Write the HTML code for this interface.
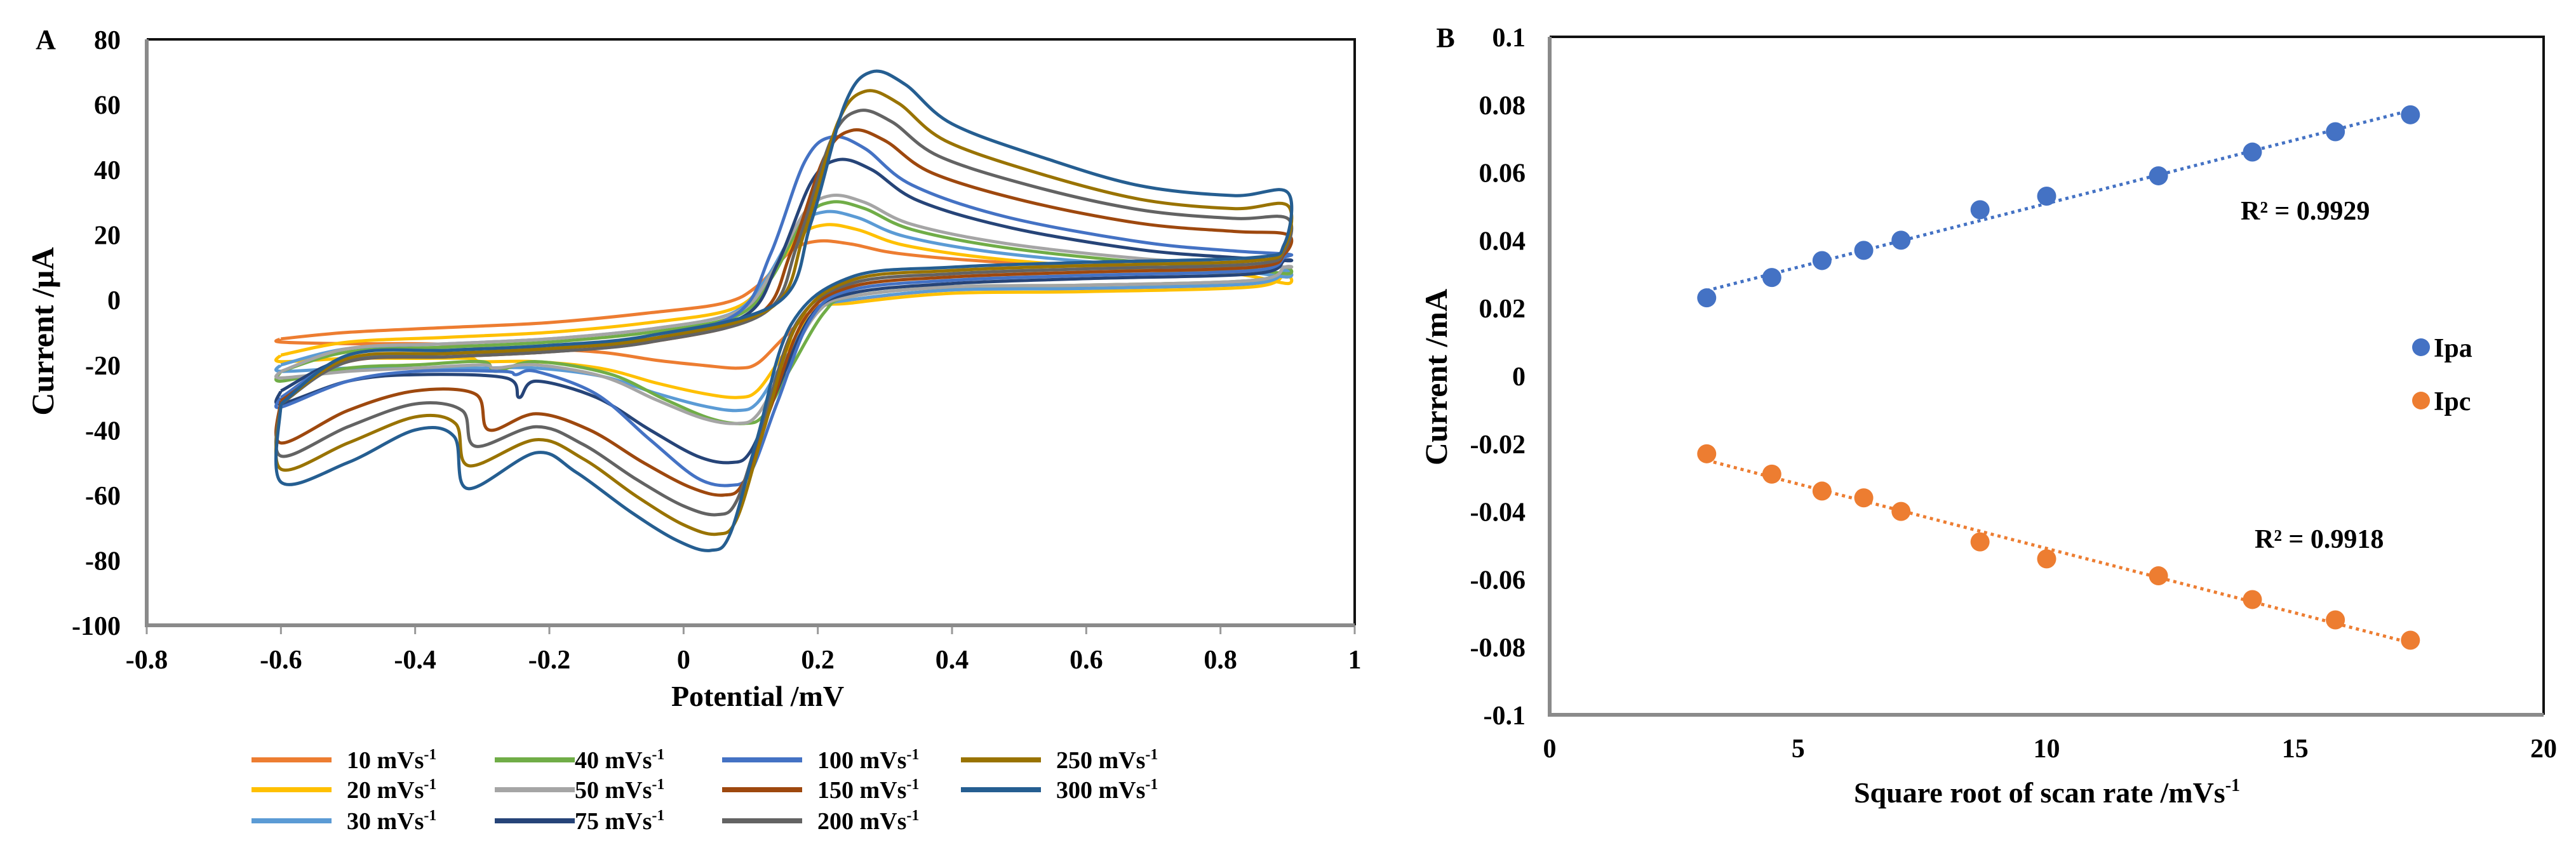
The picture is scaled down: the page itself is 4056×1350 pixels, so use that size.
<!DOCTYPE html>
<html><head><meta charset="utf-8"><style>
html,body{margin:0;padding:0;background:#fff;}
svg{display:block;font-family:"Liberation Serif",serif;font-weight:bold;}
</style></head><body>
<svg id="fig" width="4056" height="1350" viewBox="0 0 4056 1350" xmlns="http://www.w3.org/2000/svg">
<rect width="4056" height="1350" fill="#fff"/>
<g id="chartA"></g>
<g id="chartB"></g>
</svg>
<script>
// ---------- Chart A data ----------
const rates = ["10","20","30","40","50","75","100","150","200","250","300"];
const colors = ["#ED7D31","#FFC000","#5B9BD5","#70AD47","#A5A5A5","#264478","#4472C4","#9E480E","#636363","#997300","#255E91"];
const anodicPeak = [18,23,27,30,32,43,50,52,58,64,70];
const anodicPeakE = [0.20,0.21,0.21,0.22,0.22,0.23,0.22,0.25,0.26,0.27,0.28];
const cathodicPeak = [-21,-30,-34,-38,-38,-50,-57,-60,-66,-72,-77];
const cathodicPeakE = [0.08,0.08,0.08,0.09,0.08,0.07,0.07,0.06,0.05,0.05,0.04];
const forwardMid = [-7,-10,-12,-13,-12,-15,-15,-16,-16,-15,-14];
const forwardTail = [9,8,9,10,11,13,15,21,25,28,32];
const forwardEnd = [7,5,7,8,10,12,14,20,25,29,33];
const reverseEnd = [5,4,5,6,6,8,9,10,11,12,13];
const reverseMid = [3,2,3,4,4,5,6,7,8,9,10];
const hump = [-15,-19,-21,-19,-20,-25,-22,-35,-39,-43,-47];
const glitchE = [-0.3,-0.3,-0.3,-0.28,-0.28,-0.245,-0.25,-0.29,-0.31,-0.32,-0.322];
const glitchLow = [-15,-19,-21,-22,-21,-30,-23,-40,-45,-51,-58];
const glitchHigh = [-14,-18,-21,-19,-20,-24,-22,-29,-34,-38,-42];
const at040 = [-13.5,-18,-21,-20,-21,-23,-22,-28,-32,-36,-40];
const at050 = [-13.5,-18,-21,-21,-22,-25,-25,-34,-39,-44,-50];
const startLow = [-13,-19,-22,-25,-24,-32,-33,-44,-48,-52,-56];
const startHigh = [-12,-17,-20,-22,-22,-28,-30,-31,-32,-32,-32];
const xTicksA = ["-0.8","-0.6","-0.4","-0.2","0","0.2","0.4","0.6","0.8","1"];
const yTicksA = ["80","60","40","20","0","-20","-40","-60","-80","-100"];

// ---------- Chart B data ----------
const sqrtRate = [3.16,4.47,5.48,6.32,7.07,8.66,10,12.25,14.14,15.81,17.32];
const ipa = [0.023,0.029,0.034,0.037,0.040,0.049,0.053,0.059,0.066,0.072,0.077];
const ipc = [-0.023,-0.029,-0.034,-0.036,-0.040,-0.049,-0.054,-0.059,-0.066,-0.072,-0.078];
const xTicksB = ["0","5","10","15","20"];
const yTicksB = ["0.1","0.08","0.06","0.04","0.02","0","-0.02","-0.04","-0.06","-0.08","-0.1"];
const r2Labels = ["R² = 0.9929","R² = 0.9918"];

const NS="http://www.w3.org/2000/svg";
function mk(tag,attrs,parent,text){const e=document.createElementNS(NS,tag);for(const k in attrs)e.setAttribute(k,attrs[k]);if(text!==undefined)e.textContent=text;parent.appendChild(e);return e;}

// ---------- Chart A ----------
const A=document.getElementById('chartA');
const AX0=231,AX1=2133,AY0=62,AY1=985;
const xA=v=>AX0+(v+0.8)/1.8*(AX1-AX0);
const yA=v=>AY0+(80-v)/180*(AY1-AY0);

let t=mk('text',{x:72,y:77,'font-size':44,'text-anchor':'middle'},A,'A');



yTicksA.forEach(s=>{
  const lab=mk('text',{x:190,y:yA(+s)+15,'font-size':42,'text-anchor':'end'},A,s);
  
  
});
xTicksA.forEach(s=>{
  const x=xA(+s);
  const tk=mk('line',{x1:x,y1:AY1,x2:x,y2:AY1+14,stroke:'#999','stroke-width':3},A);
  
  
  const lab=mk('text',{x:x,y:1053,'font-size':42,'text-anchor':'middle'},A,s);
  
  
});
let ln=mk('path',{d:`M${AX0},${AY0}H${AX1}V${AY1}`,fill:'none',stroke:'#111','stroke-width':4},A);


ln=mk('path',{d:`M${AX0},${AY0}V${AY1}H${AX1}`,fill:'none',stroke:'#8a8a8a','stroke-width':6},A);



t=mk('text',{x:0,y:0,'font-size':50,'text-anchor':'middle',transform:'translate(84,522) rotate(-90)'},A,'Current /µA');


t=mk('text',{x:1193,y:1112,'font-size':46,'text-anchor':'middle'},A,'Potential /mV');



function smooth(pts){
  let d=`M${pts[0][0].toFixed(1)},${pts[0][1].toFixed(1)}`;
  for(let i=0;i<pts.length-1;i++){
    const p0=pts[Math.max(0,i-1)],p1=pts[i],p2=pts[i+1],p3=pts[Math.min(pts.length-1,i+2)];
    const c1=[p1[0]+(p2[0]-p0[0])/6,p1[1]+(p2[1]-p0[1])/6];
    const c2=[p2[0]-(p3[0]-p1[0])/6,p2[1]-(p3[1]-p1[1])/6];
    d+=`C${c1[0].toFixed(1)},${c1[1].toFixed(1)} ${c2[0].toFixed(1)},${c2[1].toFixed(1)} ${p2[0].toFixed(1)},${p2[1].toFixed(1)}`;
  }
  return d;
}
rates.forEach((r,i)=>{
  const pa=anodicPeak[i],ea=anodicPeakE[i],pc=cathodicPeak[i],ec=cathodicPeakE[i];
  const fm=forwardMid[i],ft=forwardTail[i],fe=forwardEnd[i],re=reverseEnd[i],rm=reverseMid[i];
  const h=hump[i],eg=glitchE[i];
  const P=[
    [-0.6,startHigh[i]],[-0.5,fm-3],[-0.35,fm-1.5],[-0.2,fm],[-0.05,fm+3],
    [ea-0.14,fm+3+0.12*(pa-fm)],[ea-0.09,fm+0.45*(pa-fm)],[ea-0.04,fm+0.88*(pa-fm)],[ea,pa],
    [ea+0.05,pa-0.1*(pa-ft)],[ea+0.12,pa-0.42*(pa-ft)],[ea+0.26,ft+0.3*(pa-ft)],
    [0.68,ft+0.08*(pa-ft)],[0.82,ft],[0.9,fe],
    [0.895,re+4],[0.85,re],[0.6,re-1.5],[0.4,rm],[0.25,rm-3],
    [ec+0.12,0.1*pc],[ec+0.07,0.55*pc],[ec+0.03,0.93*pc],[ec,pc],[ec-0.05,0.96*pc],
    [ec-0.12,pc+0.4*(h-pc)],[ec-0.2,pc+0.8*(h-pc)],[-0.22,h],
    [eg,glitchLow[i]],[eg-0.02,glitchHigh[i]],[-0.4,at040[i]],[-0.5,at050[i]],[-0.6,startLow[i]],[-0.6,startHigh[i]]
  ].map(p=>[xA(p[0]),yA(p[1])]);
  const path=mk('path',{d:smooth(P),fill:'none',stroke:colors[i],'stroke-width':5,'stroke-linejoin':'round'},A);
  
  
});

// legend A
const legX=[396,779,1137,1513],legY=[1197,1244,1293];
rates.forEach((r,i)=>{
  const col=Math.floor(i/3),row=i%3;
  const g=mk('g',{},A);
  
  
  mk('line',{x1:legX[col],y1:legY[row],x2:legX[col]+126,y2:legY[row],stroke:colors[i],'stroke-width':8},g);
  const tx=mk('text',{x:legX[col]+(col===1?126:150),y:legY[row]+13,'font-size':38},g);
  mk('tspan',{},tx,r+' mVs');
  mk('tspan',{'font-size':24,dy:-14},tx,'-1');
});

// ---------- Chart B ----------
const B=document.getElementById('chartB');
const BX0=2440,BX1=4005,BY0=58,BY1=1126;
const xB=v=>BX0+v/20*(BX1-BX0);
const yB=v=>BY0+(0.1-v)/0.2*(BY1-BY0);
t=mk('text',{x:2276,y:74,'font-size':44,'text-anchor':'middle'},B,'B');


yTicksB.forEach(s=>{
  const lab=mk('text',{x:2402,y:yB(+s)+15,'font-size':42,'text-anchor':'end'},B,s);
  
  
});
xTicksB.forEach(s=>{
  const lab=mk('text',{x:xB(+s),y:1193,'font-size':42,'text-anchor':'middle'},B,s);
  
  
});
ln=mk('path',{d:`M${BX0},${BY0}H${BX1}V${BY1}`,fill:'none',stroke:'#111','stroke-width':4},B);


ln=mk('path',{d:`M${BX0},${BY0}V${BY1}H${BX1}`,fill:'none',stroke:'#8a8a8a','stroke-width':6},B);


t=mk('text',{x:0,y:0,'font-size':50,'text-anchor':'middle',transform:'translate(2278,594) rotate(-90)'},B,'Current /mA');


t=mk('text',{x:3223,y:1264,'font-size':46,'text-anchor':'middle'},B);


mk('tspan',{},t,'Square root of scan rate /mVs');
mk('tspan',{'font-size':28,dy:-18},t,'-1');

function fit(xs,ys){const n=xs.length;const mx=xs.reduce((a,b)=>a+b)/n,my=ys.reduce((a,b)=>a+b)/n;let sxy=0,sxx=0;xs.forEach((x,k)=>{sxy+=(x-mx)*(ys[k]-my);sxx+=(x-mx)**2;});const m=sxy/sxx;return [m,my-m*mx];}
[[ipa,'#4472C4','ipa'],[ipc,'#ED7D31','ipc']].forEach(([ys,c,nm])=>{
  const [m,b]=fit(sqrtRate,ys);
  const x0=sqrtRate[0],x1=sqrtRate[sqrtRate.length-1];
  const tl=mk('line',{x1:xB(x0),y1:yB(m*x0+b),x2:xB(x1),y2:yB(m*x1+b),stroke:c,'stroke-width':5,'stroke-dasharray':'5 6'},B);
  
  
  ys.forEach((v,k)=>{
    const dot=mk('circle',{cx:xB(sqrtRate[k]),cy:yB(v),r:15,fill:c},B);
    
    
  });
});
t=mk('text',{x:3528,y:346,'font-size':42},B,r2Labels[0]);


t=mk('text',{x:3550,y:863,'font-size':42},B,r2Labels[1]);


[['Ipa','#4472C4',547],['Ipc','#ED7D31',631]].forEach(([lbl,c,y])=>{
  const g=mk('g',{},B);
  
  
  mk('circle',{cx:3812,cy:y,r:14,fill:c},g);
  mk('text',{x:3832,y:y+15,'font-size':42},g,lbl);
});
</script>
</body></html>
